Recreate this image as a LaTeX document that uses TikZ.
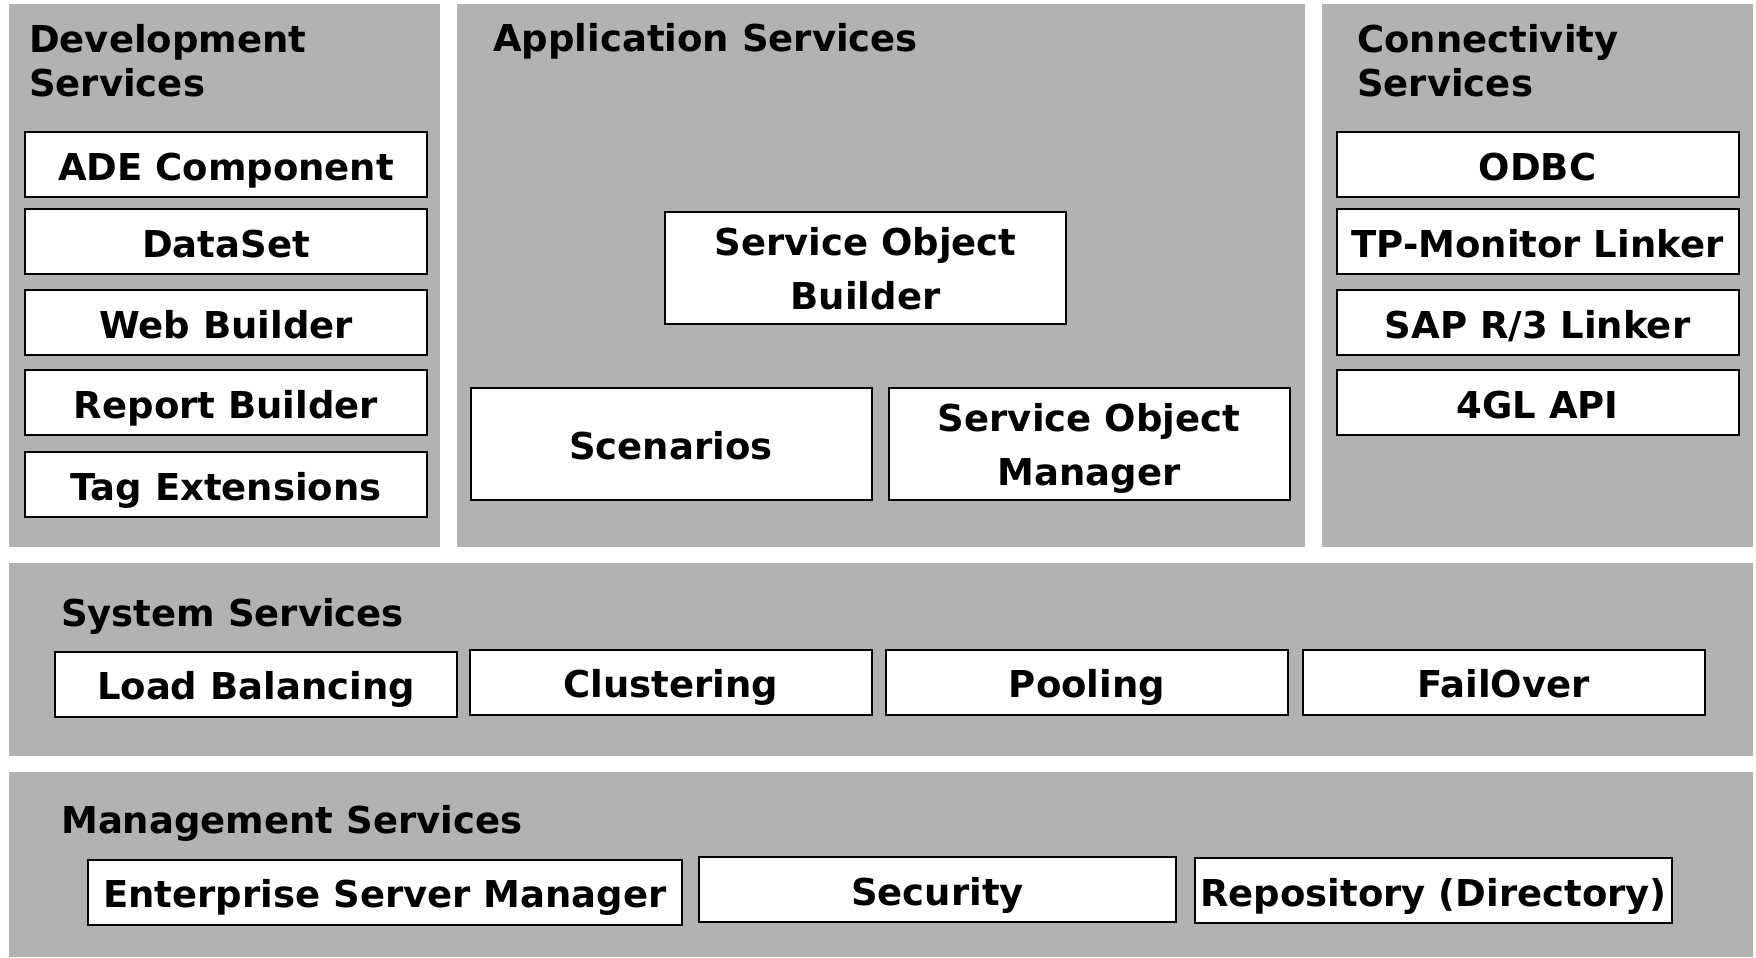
\documentclass[tikz,border=0pt]{standalone}
\usepackage{fontspec}
\setmainfont{DejaVu Sans}
\usepackage{xcolor}
\definecolor{panelgray}{RGB}{178,178,178}

\begin{document}
\begin{tikzpicture}[
    title/.style={anchor=base west, inner sep=0pt, align=left,
        font=\fontsize{37}{44}\selectfont\bfseries},
    box/.style={draw, fill=white, line width=2pt, inner sep=0pt, align=center,
        minimum height=65pt, text depth=0pt,
        font=\fontsize{37}{54}\selectfont\bfseries},
    oneline/.style={text height=31pt},
    sidebox/.style={box, oneline, minimum width=402pt},
    tallbox/.style={box, minimum width=401pt, minimum height=112pt}
]
    \useasboundingbox (0pt, 0pt) rectangle (1756pt, -958pt);

    % Panels
    \fill[panelgray] (9pt, -4pt) rectangle (440pt, -547pt);
    \fill[panelgray] (457pt, -4pt) rectangle (1305pt, -547pt);
    \fill[panelgray] (1322pt, -4pt) rectangle (1753pt, -547pt);
    \fill[panelgray] (9pt, -563pt) rectangle (1753pt, -756pt);
    \fill[panelgray] (9pt, -772pt) rectangle (1753pt, -957pt);

    % Titles (two-line ones sit on their last baseline)
    \node[title] (dev) at (29pt, -96pt) {Development\\Services};
    \node[title] (app) at (493pt, -52pt) {Application Services};
    \node[title] (con) at (1357pt, -96pt) {Connectivity\\Services};
    \node[title] (sys) at (61pt, -626pt) {System Services};
    \node[title] (mgt) at (61pt, -833pt) {Management Services};

    % Development services
    \node[sidebox] (ade) at (226pt, -164.5pt) {ADE Component};
    \node[sidebox] (dset) at (226pt, -241.5pt) {DataSet};
    \node[sidebox] (web) at (226pt, -322.5pt) {Web Builder};
    \node[sidebox] (rep) at (226pt, -402.5pt) {Report Builder};
    \node[sidebox] (tag) at (226pt, -484.5pt) {Tag Extensions};

    % Application services
    \node[tallbox] (sob) at (865.5pt, -268pt) {Service Object\\Builder};
    \node[tallbox, oneline] (scen) at (671pt, -444pt) {Scenarios};
    \node[tallbox] (som) at (1089pt, -444pt) {Service Object\\Manager};

    % Connectivity services
    \node[sidebox] (odbc) at (1537.5pt, -164.5pt) {ODBC};
    \node[sidebox] (tpm) at (1537.5pt, -241.5pt) {TP-Monitor Linker};
    \node[sidebox] (sap) at (1537.5pt, -322.5pt) {SAP R/3 Linker};
    \node[sidebox] (gl) at (1537.5pt, -402.5pt) {4GL API};

    % System services
    \node[sidebox] (load) at (256pt, -684pt) {Load Balancing};
    \node[sidebox] (clus) at (671pt, -682pt) {Clustering};
    \node[sidebox] (pool) at (1087pt, -682pt) {Pooling};
    \node[sidebox] (fail) at (1503.5pt, -682pt) {FailOver};

    % Management services
    \node[box, oneline, minimum width=594pt] (esm) at (385pt, -892pt) {Enterprise Server Manager};
    \node[box, oneline, minimum width=477pt] (sec) at (937.5pt, -889.5pt) {Security};
    \node[box, oneline, minimum width=477pt] (repo) at (1433.5pt, -890.5pt) {Repository (Directory)};

\end{tikzpicture}
\end{document}
